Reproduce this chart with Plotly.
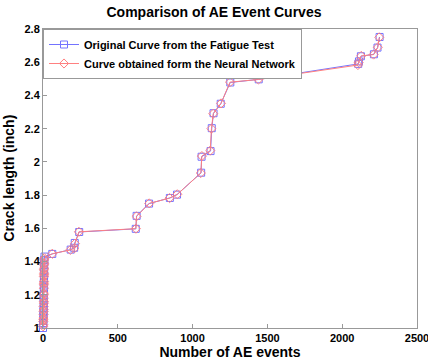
import plotly.graph_objects as go

# Original curve from the fatigue test
orig_x = [0, 2, 1, 3, 2, 4, 3, 5, 4, 6, 5, 4, 6, 5, 7, 6, 5, 7, 6, 8, 7, 6, 8, 7, 9, 8, 10,
          62, 185, 208, 212, 242, 620, 626, 709, 848, 896, 1057, 1060, 1120, 1128, 1140, 1188,
          1252, 1442, 2107, 2112, 2125, 2212, 2236, 2250]
orig_y = [1.00, 1.02, 1.03, 1.05, 1.07, 1.08, 1.10, 1.12, 1.13, 1.15, 1.17, 1.18, 1.20, 1.22,
          1.24, 1.25, 1.27, 1.29, 1.30, 1.32, 1.34, 1.35, 1.37, 1.38, 1.40, 1.41, 1.43,
          1.446, 1.472, 1.483, 1.512, 1.578, 1.597, 1.675, 1.749, 1.783, 1.803, 1.935, 2.031,
          2.065, 2.203, 2.293, 2.350, 2.478, 2.497, 2.590, 2.605, 2.636, 2.648, 2.688, 2.752]

# Curve obtained from the neural network
nn_x = [1, 2, 2, 3, 3, 4, 4, 5, 4, 6, 6, 5, 6, 5, 6, 6, 6, 7, 6, 7, 7, 6, 8, 7, 8, 8, 9,
        62, 183, 210, 214, 240, 621, 625, 710, 846, 898, 1055, 1062, 1118, 1126, 1138, 1190,
        1250, 1440, 2105, 2110, 2127, 2210, 2238, 2248]
nn_y = [1.01, 1.02, 1.04, 1.05, 1.06, 1.08, 1.10, 1.11, 1.13, 1.15, 1.16, 1.18, 1.20, 1.21,
        1.24, 1.26, 1.27, 1.28, 1.31, 1.32, 1.33, 1.35, 1.36, 1.38, 1.39, 1.41, 1.42,
        1.447, 1.470, 1.480, 1.508, 1.579, 1.598, 1.672, 1.750, 1.782, 1.805, 1.933, 2.035,
        2.068, 2.200, 2.290, 2.352, 2.480, 2.496, 2.583, 2.600, 2.638, 2.646, 2.690, 2.750]

x_ticks = [0, 500, 1000, 1500, 2000, 2500]
y_ticks = [1, 1.2, 1.4, 1.6, 1.8, 2, 2.2, 2.4, 2.6, 2.8]

FONT = "Liberation Sans"

fig = go.Figure()
fig.add_trace(go.Scatter(
    x=orig_x, y=orig_y, mode="lines+markers",
    name="Original Curve from the Fatigue Test",
    line=dict(color="#7373ff", width=1),
    marker=dict(symbol="square-open", size=7, color="#7373ff", line=dict(width=1)),
    cliponaxis=False))
fig.add_trace(go.Scatter(
    x=nn_x, y=nn_y, mode="lines+markers",
    name="Curve obtained form the Neural Network",
    line=dict(color="#ff8080", width=1),
    marker=dict(symbol="diamond-open", size=7, color="#ff8080", line=dict(width=1)),
    cliponaxis=False))

axis_common = dict(showline=True, linecolor="#999999", linewidth=1, mirror=True,
                   ticks="inside", ticklen=4, tickcolor="#999999", showgrid=False,
                   zeroline=False, automargin=False,
                   tickfont=dict(family=FONT, size=11, color="black", weight="bold"))

fig.update_layout(
    width=428, height=364,
    margin=dict(l=43, r=11, t=29, b=36),
    paper_bgcolor="white", plot_bgcolor="white",
    title=dict(text="Comparison of AE Event Curves", x=0.5, xanchor="center",
               y=0.967, yanchor="middle",
               font=dict(family=FONT, size=14, color="black", weight="bold")),
    xaxis=dict(range=[0, 2500], tickvals=x_ticks, ticklabeloverflow="allow",
               title=dict(text="Number of AE events", standoff=3,
                          font=dict(family=FONT, size=14, color="black", weight="bold")),
               **axis_common),
    yaxis=dict(range=[1, 2.8], tickvals=y_ticks, ticktext=[f"{v:g}" for v in y_ticks],
               **axis_common),
    annotations=[dict(text="Crack length (inch)", textangle=-90,
                      xref="paper", yref="paper", x=0, y=0.5,
                      xanchor="center", yanchor="middle", xshift=-35, showarrow=False,
                      font=dict(family=FONT, size=14, color="black", weight="bold"))],
    legend=dict(x=0.0, y=1.0, xanchor="left", yanchor="top",
                bgcolor="white", bordercolor="#999999", borderwidth=1,
                font=dict(family=FONT, size=11, color="black", weight="bold"),
                tracegroupgap=0, itemwidth=30),
    showlegend=True,
)
fig.write_html("out.html", config={"displayModeBar": False},
               post_script="document.body.style.margin='0';")
